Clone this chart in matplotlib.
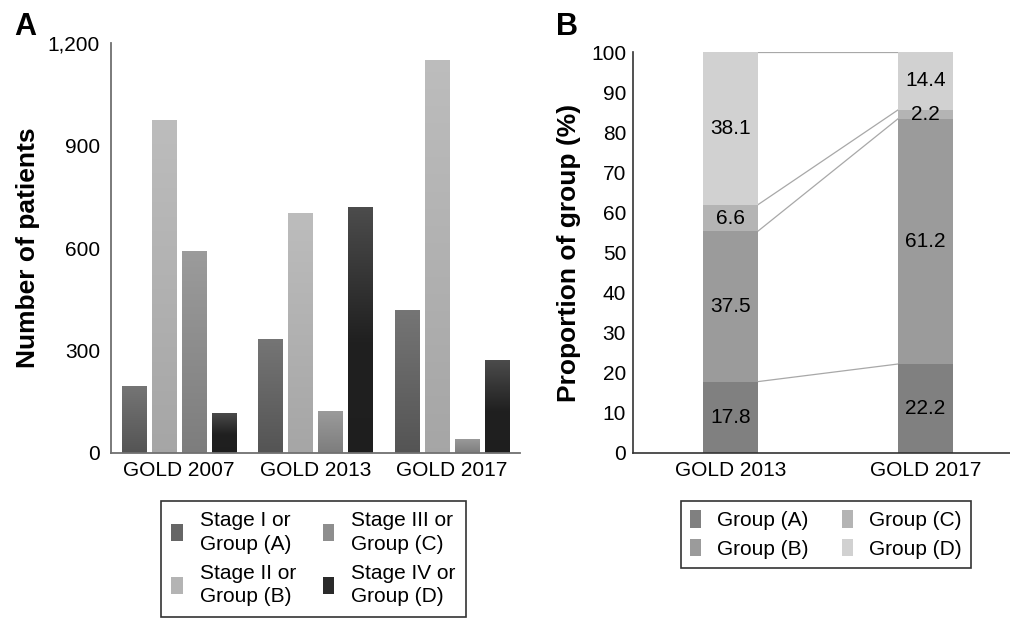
import numpy as np
import matplotlib
matplotlib.use('Agg')
import matplotlib.pyplot as plt
from matplotlib.patches import Patch

plt.rcParams['font.family'] = ['Liberation Sans', 'DejaVu Sans']

# Panel A data
editions = ['GOLD 2007', 'GOLD 2013', 'GOLD 2017']
stage_labels = ['Stage I or\nGroup (A)', 'Stage II or\nGroup (B)',
                'Stage III or\nGroup (C)', 'Stage IV or\nGroup (D)']
stage_a = [197, 335, 420]
stage_b = [976, 703, 1151]
stage_c = [592, 124, 42]
stage_d = [118, 721, 273]

# Panel B data
editions_b = ['GOLD 2013', 'GOLD 2017']
group_labels = ['Group (A)', 'Group (B)', 'Group (C)', 'Group (D)']
group_a = [17.8, 22.2]
group_b = [37.5, 61.2]
group_c = [6.6, 2.2]
group_d = [38.1, 14.4]

# gradient stops (top -> bottom) for panel A bars
grad_stops = [
    [(0.0, 0.46), (1.0, 0.33)],
    [(0.0, 0.74), (1.0, 0.65)],
    [(0.0, 0.61), (1.0, 0.49)],
    [(0.0, 0.30), (0.55, 0.125), (1.0, 0.12)],
]
legend_cols_a = ['#666666', '#b4b4b4', '#8e8e8e', '#2a2a2a']
colors_b = ['#808080', '#9b9b9b', '#b4b4b4', '#d1d1d1']

fig = plt.figure(figsize=(10.1, 6.18), dpi=100)

# ---------------- Panel A ----------------
axA = fig.add_axes([111/1010, 1-453/618, 409/1010, 410/618])
series = [stage_a, stage_b, stage_c, stage_d]
x = np.arange(len(editions))
offsets = [-0.33, -0.11, 0.11, 0.33]
width = 0.18
for vals, off, stops in zip(series, offsets, grad_stops):
    bars = axA.bar(x + off, vals, width=width, color='none', zorder=2)
    pos = np.linspace(0, 1, 200)
    g = np.interp(pos, [s[0] for s in stops], [s[1] for s in stops])
    img = np.dstack([g, g, g]).reshape(200, 1, 3)
    for b in bars:
        im = axA.imshow(img, extent=[b.get_x(), b.get_x() + b.get_width(), 0, b.get_height()],
                        aspect='auto', origin='upper', interpolation='bilinear', zorder=2)
        im.set_clip_path(b)

axA.set_xlim(-0.5, 2.5)
axA.set_ylim(0, 1200)
axA.set_yticks([0, 300, 600, 900, 1200])
axA.set_yticklabels(['0', '300', '600', '900', '1,200'])
axA.set_xticks(x)
axA.set_xticklabels(editions)
axA.tick_params(axis='both', length=0, labelsize=15)
axA.tick_params(axis='y', pad=8)
axA.tick_params(axis='x', pad=6)
for s in ['top', 'right']:
    axA.spines[s].set_visible(False)
for s in ['left', 'bottom']:
    axA.spines[s].set_color('#707070')
    axA.spines[s].set_linewidth(1.3)
axA.set_ylabel('Number of patients', fontsize=19, fontweight='bold')
axA.yaxis.set_label_coords(-0.173, 0.5)

handles_a = [Patch(facecolor=c, edgecolor='none') for c in legend_cols_a]
legA = fig.legend(handles_a, stage_labels, ncol=2, loc='upper left',
                  bbox_to_anchor=(161/1010, 1-501/618), borderaxespad=0, fontsize=15,
                  frameon=True, fancybox=False, edgecolor='black',
                  handlelength=0.55, handleheight=0.9, handletextpad=0.8,
                  columnspacing=1.3, labelspacing=0.5, borderpad=0.5)
legA.get_frame().set_linewidth(1.2)
for t in legA.get_texts():
    t.set_linespacing(1.28)

# ---------------- Panel B ----------------
axB = fig.add_axes([633/1010, 1-453/618, 377/1010, 401/618])
xb = np.arange(len(editions_b))
wb = 0.28
bottom = np.zeros(len(editions_b))
tops = []
for vals, c in zip([group_a, group_b, group_c, group_d], colors_b):
    vals = np.array(vals)
    axB.bar(xb, vals, bottom=bottom, width=wb, color=c, zorder=2)
    for xi, v, b0 in zip(xb, vals, bottom):
        axB.text(xi, b0 + v / 2, f'{v:.1f}', ha='center', va='center', fontsize=15, zorder=3)
    bottom = bottom + vals
    tops.append(bottom.copy())

for t in tops:
    axB.plot([xb[0] + wb / 2, xb[1] - wb / 2], [t[0], t[1]], color='#a8a8a8', lw=0.9, zorder=1)

axB.set_xlim(-0.5, 1.433)
axB.set_ylim(0, 100)
axB.set_yticks(np.arange(0, 101, 10))
axB.set_xticks(xb)
axB.set_xticklabels(editions_b)
axB.tick_params(axis='both', length=0, labelsize=15)
axB.tick_params(axis='y', pad=5)
axB.tick_params(axis='x', pad=6)
for s in ['top', 'right']:
    axB.spines[s].set_visible(False)
for s in ['left', 'bottom']:
    axB.spines[s].set_color('#333333')
    axB.spines[s].set_linewidth(1.2)
axB.set_ylabel('Proportion of group (%)', fontsize=19, fontweight='bold')
axB.yaxis.set_label_coords(-0.137, 0.5)

handles_b = [Patch(facecolor=c, edgecolor='none') for c in colors_b]
legB = fig.legend(handles_b, group_labels, ncol=2, loc='upper left',
                  bbox_to_anchor=(681/1010, 1-501/618), borderaxespad=0, fontsize=15,
                  frameon=True, fancybox=False, edgecolor='black',
                  handlelength=0.5, handleheight=0.9, handletextpad=0.8,
                  columnspacing=1.6, labelspacing=0.42, borderpad=0.45)
legB.get_frame().set_linewidth(1.2)

fig.text(14/1010, 1-35/618, 'A', fontsize=22, fontweight='bold')
fig.text(556/1010, 1-35/618, 'B', fontsize=22, fontweight='bold')

fig.savefig('out.png', dpi=100)
